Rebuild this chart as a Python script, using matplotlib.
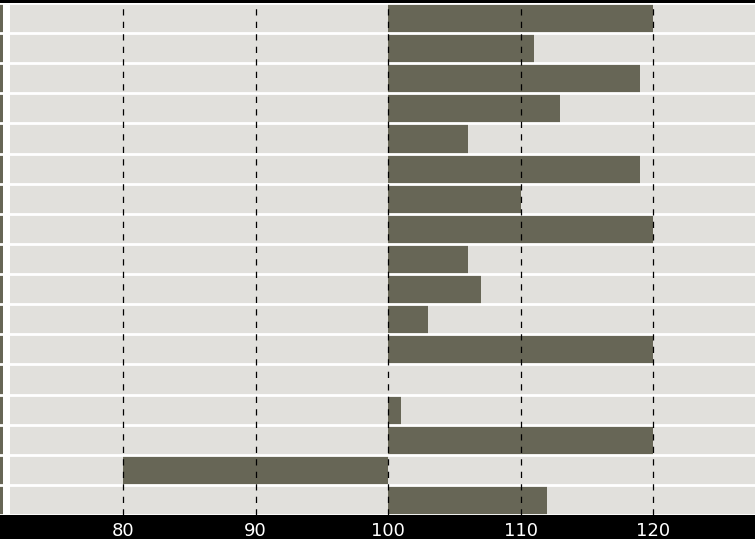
import matplotlib.pyplot as plt
import numpy as np

# dane: wartości słupków (od góry do dołu), punkt odniesienia 100
wartosci = [120, 111, 119, 113, 106, 119, 110, 120, 106, 107, 103, 120, 100, 101, 120, 80, 112]
baza = 100
ticki = [80, 90, 100, 110, 120]

kolor_tla = "#e1e0dc"
kolor_slupka = "#676656"

fig = plt.figure(figsize=(7.55, 5.39), dpi=100, facecolor="black")

dol = 24 / 539
gora = 536 / 539
n = len(wartosci)
y = np.arange(n)

# wąski pasek po lewej stronie
ax_l = fig.add_axes([0, dol, 10 / 755, gora - dol])
ax_l.set_facecolor("white")
ax_l.barh(y, 3, height=1.0, left=0, color=kolor_slupka)
ax_l.set_xlim(0, 10)
ax_l.set_ylim(n - 0.5, -0.5)
for g in np.arange(-0.5, n, 1):
    ax_l.axhline(g, color="white", lw=2, zorder=3)
ax_l.set_xticks([])
ax_l.set_yticks([])
for s in ax_l.spines.values():
    s.set_visible(False)

# główny wykres
ax = fig.add_axes([10 / 755, dol, 745 / 755, gora - dol])
ax.set_facecolor(kolor_tla)
szer = [w - baza for w in wartosci]
ax.barh(y, szer, left=baza, height=1.0, color=kolor_slupka, zorder=2)

for g in np.arange(-0.5, n, 1):
    ax.axhline(g, color="white", lw=2, zorder=3)
for t in ticki:
    ax.axvline(t, color="black", lw=0.9, linestyle=(0, (5, 5)), zorder=4)

ax.set_xlim(71.45, 127.7)
ax.set_ylim(n - 0.5, -0.5)
ax.set_xticks(ticki)
ax.set_yticks([])
ax.tick_params(axis="x", length=0, colors="white", labelsize=13, pad=5)
for s in ax.spines.values():
    s.set_visible(False)

fig.savefig("out.png", dpi=100, facecolor="black")
